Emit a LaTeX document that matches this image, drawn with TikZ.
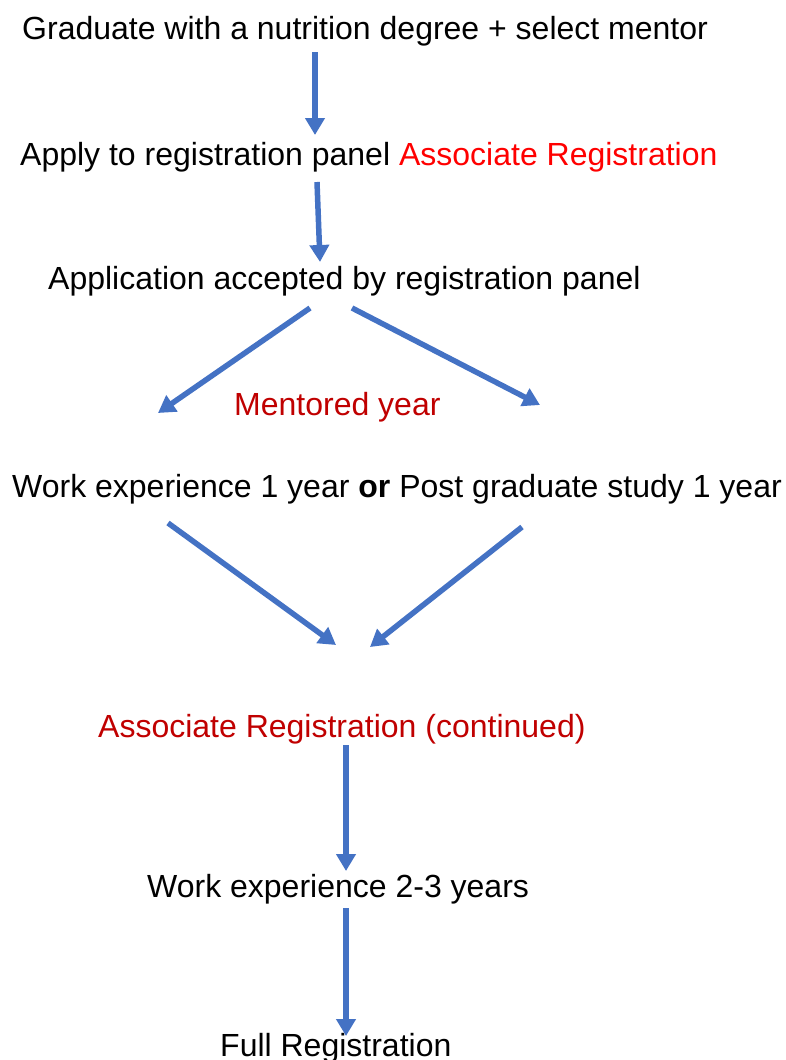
\documentclass[tikz,border=0pt]{standalone}
\usepackage{fontspec}
\setmainfont{Liberation Sans}
\usetikzlibrary{arrows.meta}
\definecolor{arrowblue}{HTML}{4472C4}
\definecolor{brightred}{HTML}{FF0000}
\definecolor{darkred}{HTML}{C00000}
\begin{document}
\begin{tikzpicture}[x=1pt,y=-1pt,
  lbl/.style={anchor=base west,inner sep=0pt,font=\fontsize{32}{36}\selectfont},
  flow/.style={draw=arrowblue,line width=5.5pt,-{Triangle[width=19pt,length=17pt]}}]
\useasboundingbox (0,0) rectangle (786,1060);
\node[lbl] (t1) at (22,39) {Graduate with a nutrition degree + select mentor};
\node[lbl] (t2) at (20,165) {Apply to registration panel \textcolor{brightred}{Associate Registration}};
\node[lbl] (t3) at (48,289) {Application accepted by registration panel};
\node[lbl,text=darkred] (m) at (234,415) {Mentored year};
\node[lbl] (t4) at (12,497) {Work experience 1 year \textbf{or} Post graduate study 1 year};
\node[lbl,text=darkred] (t5) at (98,737) {Associate Registration (continued)};
\node[lbl] (t6) at (147,897) {Work experience 2-3 years};
\node[lbl] (t7) at (220,1056) {Full Registration};
\coordinate (a1s) at (315,52);  \coordinate (a1e) at (315,135);
\coordinate (a2s) at (317,182); \coordinate (a2e) at (320,262);
\coordinate (a3s) at (310,308); \coordinate (a3e) at (158,413);
\coordinate (a4s) at (352,308); \coordinate (a4e) at (540,405);
\coordinate (a5s) at (168,523); \coordinate (a5e) at (336,645);
\coordinate (a6s) at (522,527); \coordinate (a6e) at (370,647);
\coordinate (a7s) at (346,745); \coordinate (a7e) at (346,871);
\coordinate (a8s) at (346,908); \coordinate (a8e) at (346,1036);
\draw[flow] (a1s) -- (a1e);
\draw[flow] (a2s) -- (a2e);
\draw[flow] (a3s) -- (a3e);
\draw[flow] (a4s) -- (a4e);
\draw[flow] (a5s) -- (a5e);
\draw[flow] (a6s) -- (a6e);
\draw[flow] (a7s) -- (a7e);
\draw[flow] (a8s) -- (a8e);
\end{tikzpicture}
\end{document}
